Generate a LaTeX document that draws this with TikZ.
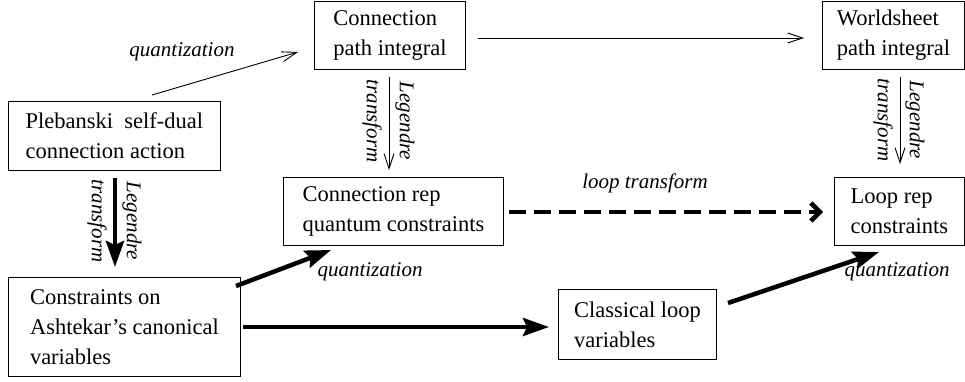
\documentclass[tikz,border=0pt]{standalone}
\usepackage{fontspec}
\setmainfont{Liberation Serif}
\usetikzlibrary{arrows.meta}
\begin{document}
\begin{tikzpicture}[x=1pt,y=-1pt,
  box/.style={draw, line width=0.9pt, inner sep=0pt, anchor=north west, align=left,
    font=\fontsize{22.5}{30}\selectfont},
  lbl/.style={font=\fontsize{21}{25}\selectfont\itshape, inner sep=0pt},
  thinarr/.style={line width=0.9pt, -{Straight Barb[length=15pt,width=10pt]}},
  thickarr/.style={line width=4.5pt, -{Stealth[length=26pt,width=18pt,inset=4pt]}},
  dasharr/.style={line width=4.5pt, dash pattern=on 17pt off 8pt,
    -{Straight Barb[length=9pt,width=18pt]}}]
\useasboundingbox (0,0) rectangle (965,381);

% boxes
\node[box, minimum width=212pt, minimum height=69pt] (pleb) at (8,101)
  {Plebanski\ \ self-dual\\connection action};
\node[box, minimum width=232pt, minimum height=99pt] (ash) at (8,277)
  {Constraints on\\Ashtekar's canonical\\variables};
\node[box, minimum width=151pt, minimum height=68pt] (cpi) at (314,1)
  {Connection\\path integral};
\node[box, minimum width=142pt, minimum height=68pt] (ws) at (822,1)
  {Worldsheet\\path integral};
\node[box, minimum width=220pt, minimum height=68pt] (crep) at (283,177)
  {Connection rep\\quantum constraints};
\node[box, minimum width=130pt, minimum height=68pt] (lrep) at (834,177)
  {Loop rep\\constraints};
\node[box, minimum width=158pt, minimum height=70pt] (cloop) at (558,289)
  {Classical loop\\variables};

% connector end points
\coordinate (q1s) at (152,95);   \coordinate (q1e) at (298,52);
\coordinate (hs) at (478,38);    \coordinate (he) at (804,38);
\coordinate (l1s) at (389,77);   \coordinate (l1e) at (389,170);
\coordinate (l2s) at (900,77);   \coordinate (l2e) at (900,164);
\coordinate (l3s) at (115,178);  \coordinate (l3e) at (115,267);
\coordinate (q2s) at (236,286);  \coordinate (q2e) at (331,250);
\coordinate (ts) at (243,327);   \coordinate (te) at (549,327);
\coordinate (ds) at (509,212);   \coordinate (de) at (823,212);
\coordinate (q3s) at (728,303);  \coordinate (q3e) at (879,252);

% thin arrows
\draw[thinarr] (q1s) -- (q1e);
\draw[thinarr] (hs) -- (he);
\draw[thinarr] (l1s) -- (l1e);
\draw[thinarr] (l2s) -- (l2e);

% thick arrows
\draw[thickarr] (l3s) -- (l3e);
\draw[thickarr] (q2s) -- (q2e);
\draw[thickarr] (ts) -- (te);
\draw[thickarr] (q3s) -- (q3e);
\draw[dasharr] (ds) -- (de);

% labels
\node[lbl] (lq1) at (182,52) {quantization};
\node[lbl] (lq2) at (370,272) {quantization};
\node[lbl] (lq3) at (897,272) {quantization};
\node[lbl] (llt) at (645,183) {loop transform};
\node[lbl, rotate=-90] (lg1a) at (405,121) {Legendre};
\node[lbl, rotate=-90] (lg1b) at (372,121) {transform};
\node[lbl, rotate=-90] (lg2a) at (915,120) {Legendre};
\node[lbl, rotate=-90] (lg2b) at (883,120) {transform};
\node[lbl, rotate=-90] (lg3a) at (132,221) {Legendre};
\node[lbl, rotate=-90] (lg3b) at (97,221) {transform};
\end{tikzpicture}
\end{document}
